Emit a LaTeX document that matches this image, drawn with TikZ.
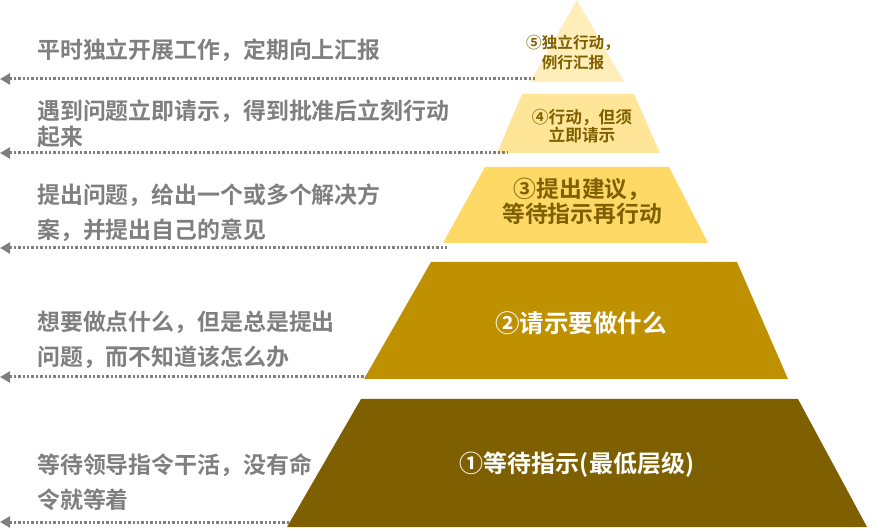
\documentclass[tikz,border=0pt]{standalone}
\usepackage{fontspec}
\setmainfont{Noto Sans CJK SC}[BoldFont={Noto Sans CJK SC Bold}]
\usepackage{tikz}
\usetikzlibrary{arrows.meta,positioning}

\definecolor{grijs}{HTML}{7F7F7F}
\definecolor{laagEen}{HTML}{7F6000}
\definecolor{laagTwee}{HTML}{BF9000}
\definecolor{laagDrie}{HTML}{FFD966}
\definecolor{laagVier}{HTML}{FFE597}
\definecolor{laagVijf}{HTML}{FFEDBA}
\definecolor{donkerGoud}{HTML}{7F6000}

\tikzset{
	uitleg/.style={anchor=west, align=left, inner sep=0pt, text=grijs,
		font=\bfseries\fontsize{22.9}{35}\selectfont},
	pijl/.style={<-, draw=grijs, line width=3pt, dash pattern=on 2.4pt off 2pt},
	laagtekst/.style={align=center, inner sep=0pt, font=\bfseries}
}

\begin{document}
\begin{tikzpicture}[x=1pt, y=-1pt, >={Triangle[length=10pt,width=11pt]}]
		\useasboundingbox (0,0) rectangle (871,529);

		% Piramide (lagen van onder naar boven)
		\fill[laagEen]  (361,399) -- (798,399) -- (867,527) -- (287,527) -- cycle;
		\fill[laagTwee] (431,262) -- (737,262) -- (788,379) -- (364,379) -- cycle;
		\fill[laagDrie] (485,167) -- (669,167) -- (708,243) -- (443,243) -- cycle;
		\fill[laagVier] (522,94) -- (634,94) -- (660,153) -- (497,153) -- cycle;
		\fill[laagVijf] (577,0) -- (624,82) -- (530,82) -- cycle;

		% Teksten in de lagen
		\node[laagtekst, text=white, font=\bfseries\fontsize{24}{28}\selectfont] (t1) at (577,465) {①等待指示(最低层级)};
		\node[laagtekst, text=white, font=\bfseries\fontsize{24.5}{28}\selectfont] (t2) at (581,323) {②请示要做什么};
		\node[laagtekst, text=donkerGoud, font=\bfseries\fontsize{22.8}{25}\selectfont] (t3) at (582,201) {③提出建议，\\等待指示再行动};
		\node[laagtekst, text=donkerGoud, font=\bfseries\fontsize{16.7}{18.5}\selectfont] (t4) at (582,126) {④行动，但须\\立即请示};
		\node[laagtekst, text=donkerGoud, font=\bfseries\fontsize{15.6}{20}\selectfont] (t5) at (573,53) {⑤独立行动，\\例行汇报};

		% Pijlen naar links (dotted arrows)
		\coordinate (s1) at (289,522);  \coordinate (e1) at (0,522);
		\coordinate (s2) at (367,377);  \coordinate (e2) at (0,377);
		\coordinate (s3) at (447,248);  \coordinate (e3) at (0,248);
		\coordinate (s4) at (508,153);  \coordinate (e4) at (0,153);
		\coordinate (s5) at (535,79);   \coordinate (e5) at (0,79);
		\foreach \i in {1,...,5}
			\draw[pijl] (e\i) -- (s\i);

		% Uitleg links
		\node[uitleg] (u1) at (37,482.5) {等待领导指令干活，没有命\\令就等着};
		\node[uitleg] (u2) at (37,340) {想要做点什么，但是总是提出\\问题，而不知道该怎么办};
		\node[uitleg] (u3) at (37,212.5) {提出问题，给出一个或多个解决方\\案，并提出自己的意见};
		\node[uitleg, font=\bfseries\fontsize{22.9}{26}\selectfont] (u4) at (37,124) {遇到问题立即请示，得到批准后立刻行动\\起来};
		\node[uitleg] (u5) at (37,50) {平时独立开展工作，定期向上汇报};

	\end{tikzpicture}
\end{document}
